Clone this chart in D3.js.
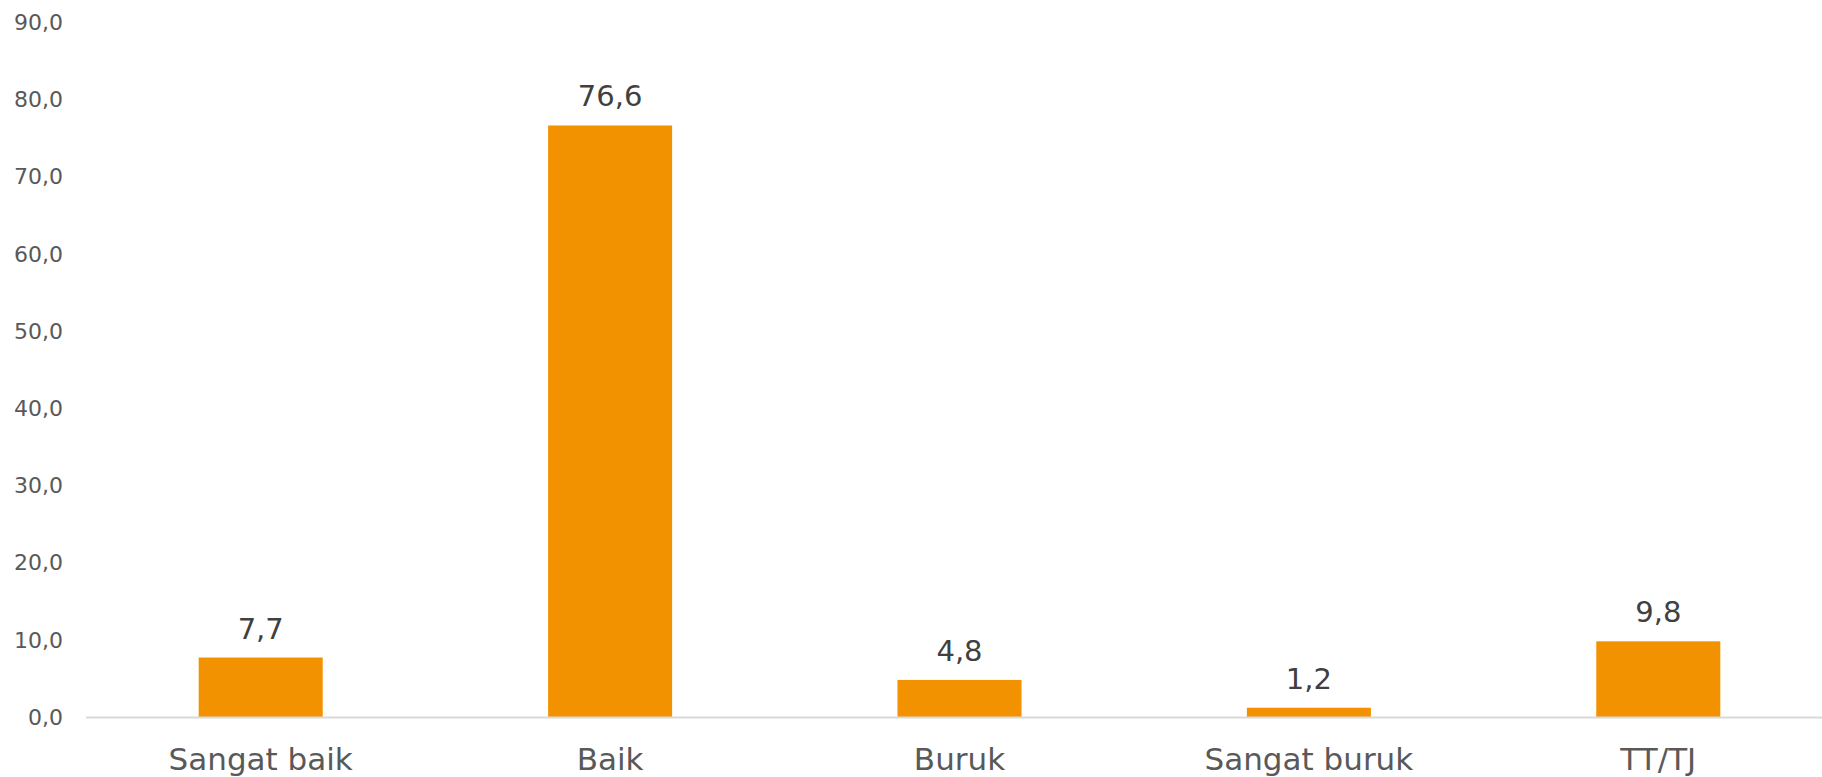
<!DOCTYPE html>
<html><head><meta charset="utf-8">
<script src="https://cdn.jsdelivr.net/npm/d3@7"></script>
<style>html,body{margin:0;padding:0;background:#fff;overflow:hidden}</style>
</head><body>
<svg id="chart" width="1822" height="777"></svg>
<script>
const categories = ["Sangat baik", "Baik", "Buruk", "Sangat buruk", "TT/TJ"];
const values = [7.7, 76.6, 4.8, 1.2, 9.8];
const yTicks = [0, 10, 20, 30, 40, 50, 60, 70, 80, 90];

const W = 1822, H = 777;
const plotLeft = 86, plotRight = 1833, baseY = 717, topY = 22;
const fontFam = "'DejaVu Sans', sans-serif";
const fmt = v => d3.format(".1f")(v).replace(".", ",");

const svg = d3.select("#chart");
const x = d3.scaleBand().domain(categories).range([plotLeft, plotRight]).paddingInner(0.645).paddingOuter(0.3225);
const y = d3.scaleLinear().domain([0, 90]).range([baseY, topY]);

// y tick labels
svg.append("g").selectAll("text").data(yTicks).join("text")
  .attr("x", 63).attr("y", d => y(d)).attr("dy", "0.36em")
  .attr("text-anchor", "end")
  .attr("font-family", fontFam).attr("font-size", 22).attr("fill", "#595959")
  .text(fmt);

// bars
svg.append("g").selectAll("rect").data(values).join("rect")
  .attr("x", (d, i) => x(categories[i]))
  .attr("width", x.bandwidth())
  .attr("y", d => y(d))
  .attr("height", d => y(0) - y(d))
  .attr("fill", "#F39200");

// baseline
svg.append("line").attr("x1", plotLeft).attr("x2", W).attr("y1", y(0) + 0.5).attr("y2", y(0) + 0.5)
  .attr("stroke", "#d9d9d9").attr("stroke-width", 2);

// data labels
svg.append("g").selectAll("text").data(values).join("text")
  .attr("x", (d, i) => x(categories[i]) + x.bandwidth() / 2)
  .attr("y", d => y(d) - 19)
  .attr("text-anchor", "middle")
  .attr("font-family", fontFam).attr("font-size", 29).attr("fill", "#404040")
  .text(fmt);

// category labels
svg.append("g").selectAll("text").data(categories).join("text")
  .attr("x", d => x(d) + x.bandwidth() / 2)
  .attr("y", 770)
  .attr("text-anchor", "middle")
  .attr("font-family", fontFam).attr("font-size", 31).attr("fill", "#595959")
  .text(d => d);
</script>
</body></html>
